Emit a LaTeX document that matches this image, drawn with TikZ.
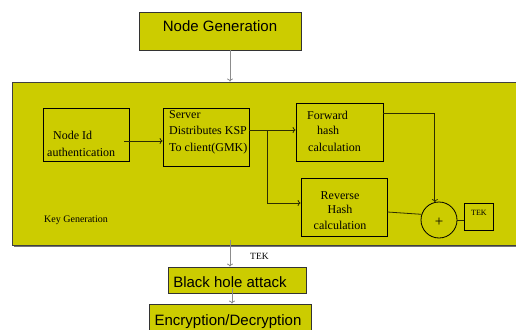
\documentclass[tikz,border=0pt]{standalone}
\usepackage{fontspec}
\setmainfont{Liberation Serif}
\newfontfamily\arialfont{Liberation Sans}
\usetikzlibrary{calc,shadows,arrows.meta}
\definecolor{boxfill}{RGB}{204,204,0}
\definecolor{linkolive}{RGB}{45,45,0}

\begin{document}
\begin{tikzpicture}[x=1pt,y=-1pt,
  stage/.style={draw=black!80, line width=0.8pt, fill=boxfill, inner sep=0pt,
    drop shadow={shadow xshift=0.8pt, shadow yshift=-1.4pt, fill=black!55, opacity=1}},
  stagetext/.style={font=\arialfont\fontsize{15}{18}\selectfont, inner sep=0pt, anchor=base},
  block/.style={draw=black, line width=0.8pt, inner sep=0pt},
  txt/.style={font=\fontsize{12}{14}\selectfont, inner sep=0pt, anchor=base west},
  ctxt/.style={font=\fontsize{12}{14}\selectfont, inner sep=0pt, anchor=base},
  flow/.style={draw=black!45, line width=0.8pt, -{To[length=3pt,width=6pt]}},
  link/.style={draw=linkolive, line width=0.8pt, -{To[length=3pt,width=6pt]}},
  plain/.style={draw=linkolive, line width=0.8pt},
]
\clip (0,0) rectangle (516,329);
\fill[white] (0,0) rectangle (516,329);

% stage boxes
\node[stage, minimum width=162pt, minimum height=38pt] (ng) at (220,31) {};
\node[stagetext] (ngt) at (220,32) {Node Generation};

\fill[black!55] (13.5,83.5) rectangle (522,247);
\node[draw=black!75, line width=0.9pt, fill=boxfill, inner sep=0pt,
      minimum width=512pt, minimum height=163pt] (kg) at (268,163.5) {};

\node[stage, minimum width=138pt, minimum height=26pt] (bh) at (237,280) {};
\node[stagetext] (bht) at (230,287) {Black hole attack};

\node[stage, minimum width=162pt, minimum height=40pt] (ed) at (230,324) {};
\node[stagetext] (edt) at (228,325) {Encryption/Decryption};

% key generation blocks
\node[block, minimum width=86pt, minimum height=53pt] (nid) at (86,134.5) {};
\node[block, minimum width=86pt, minimum height=58pt] (srv) at (206,137) {};
\node[block, minimum width=87pt, minimum height=58pt] (fwd) at (339.5,132) {};
\node[block, minimum width=86pt, minimum height=58pt] (rev) at (344,207) {};
\node[draw=black, line width=0.8pt, circle, minimum size=36pt, inner sep=0pt] (sum) at (439,220) {};
\node[font=\fontsize{15}{16}\selectfont, inner sep=0pt] (plus) at (439,222) {+};
\node[block, minimum width=29pt, minimum height=27pt] (tek) at (478.5,216.5) {};

% block texts
\node[txt] (t1) at (53,139) {Node Id};
\node[txt] (t2) at (47,156) {authentication};
\node[txt] (t3) at (169,118) {Server};
\node[txt] (t4) at (169,134.5) {Distributes KSP};
\node[txt] (t5) at (169,151) {To client(GMK)};
\node[txt] (t6) at (307,119) {Forward};
\node[txt] (t7) at (317,134.5) {hash};
\node[txt] (t8) at (308,151) {calculation};
\node[ctxt] (t9) at (340,199) {Reverse};
\node[ctxt] (t10) at (340,213.5) {Hash};
\node[ctxt] (t11) at (340,229.5) {calculation};
\node[font=\fontsize{8}{10}\selectfont, inner sep=0pt, anchor=base west] (tekt) at (471,215.5) {TEK};
\node[font=\fontsize{10}{12}\selectfont, inner sep=0pt, anchor=base west] (kgt) at (44,222.5) {Key Generation};
\node[font=\fontsize{9.5}{12}\selectfont, inner sep=0pt, anchor=base west] (tekl) at (250,259.5) {TEK};

% connectors between stages
\coordinate (ngout) at ($(ng.south)+(10,0)$);
\draw[flow] (ngout) -- (ngout |- kg.north);
\coordinate (tekout) at (230,240);
\draw[flow] (tekout) -- (tekout |- bh.north);
\coordinate (bhout) at (232,288);
\draw[flow] (bhout) -- (bhout |- ed.north);

% connectors inside key generation
\coordinate (a1) at (124,141);
\draw[link] (a1) -- (a1 -| srv.west);
\coordinate (split) at (267,130);
\draw[link] (split -| srv.east) -- (split -| fwd.west);
\coordinate (revin) at (301,203);
\draw[link] (split) |- (revin -| rev.west);
\coordinate (fout) at (383,113);
\draw[link] (fout -| fwd.east) -| (sum.103);
\coordinate (rout) at (387,212);
\draw[plain] (rout -| rev.east) -- (sum.162);
\draw[plain] (sum.east) -- (sum.east -| tek.west);
\end{tikzpicture}
\end{document}
